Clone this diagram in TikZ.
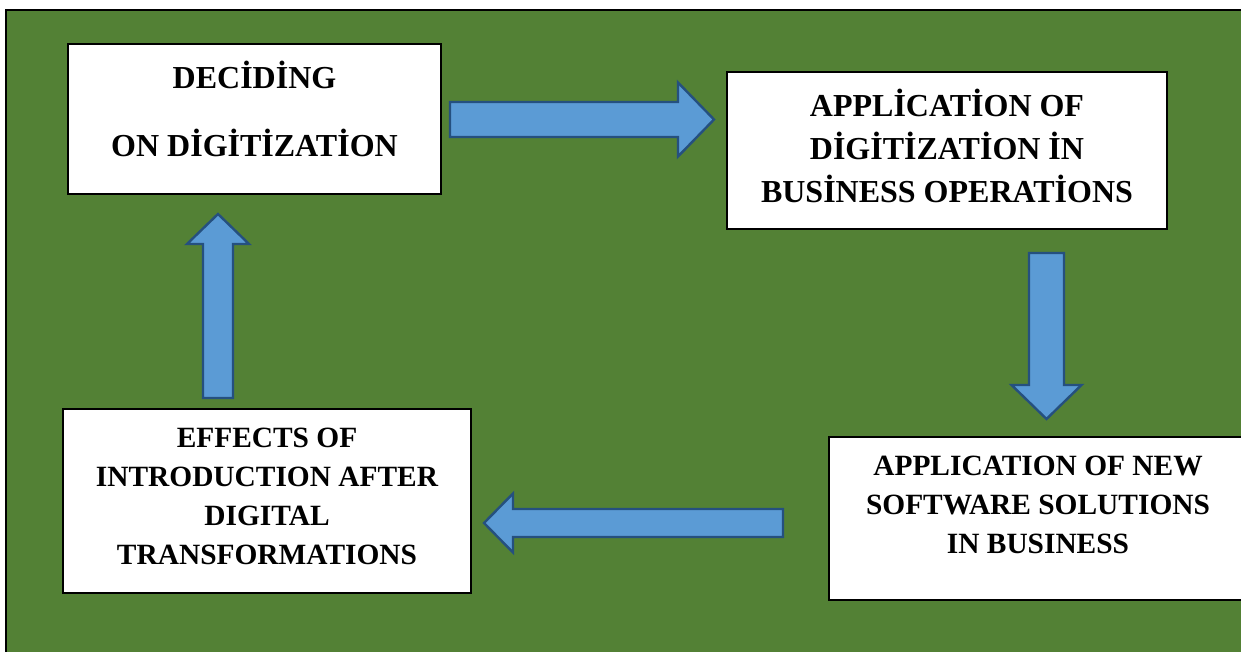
\documentclass[tikz,border=0pt]{standalone}
\usepackage{fontspec}
\setmainfont{Liberation Serif}
\usetikzlibrary{calc}
\definecolor{field}{HTML}{538135}
\definecolor{arrowfill}{HTML}{5B9BD5}
\definecolor{arrowedge}{HTML}{25507F}

\begin{document}
\begin{tikzpicture}[
  x=.5pt, y=-.5pt,
  font=\bfseries\fontsize{14.7}{19.5}\selectfont,
  stage/.style={draw=black, line width=1pt, fill=white, inner sep=0pt},
  stagetext/.style={align=center, inner sep=0pt},
  bigtext/.style={stagetext, font=\bfseries\fontsize{16}{21.5}\selectfont},
  blockarrow/.style={draw=arrowedge, fill=arrowfill, line width=1.2pt,
    line join=miter}
]
% pixel grid of the sketch, y grows downwards
\clip (0,0) rectangle (1241,652);
\fill[white] (0,0) rectangle (1241,652);
\draw[line width=1.1pt, fill=field] (6,10) rectangle (1270,680);

\node[stage, minimum width=186.5pt, minimum height=75pt] (decide) at (254.5,119) {};
\node[bigtext] (decide-text) at (254.5,109) {DECİDİNG\\[12.5pt] ON DİGİTİZATİON};

\node[stage, minimum width=220pt, minimum height=78.5pt] (apply) at (947,150.5) {};
\node[bigtext] (apply-text) at (947,145.5)
  {APPLİCATİON OF\\ DİGİTİZATİON İN\\ BUSİNESS OPERATİONS};

\node[stage, minimum width=209pt, minimum height=81.5pt] (software) at (1038,518.5) {};
\node[stagetext] (software-text) at (1038,505)
  {APPLICATION OF NEW\\ SOFTWARE SOLUTIONS\\ IN BUSINESS};

\node[stage, minimum width=204pt, minimum height=92pt] (effects) at (267,501) {};
\node[stagetext] (effects-text) at (267,496)
  {EFFECTS OF\\ INTRODUCTION AFTER\\ DIGITAL\\ TRANSFORMATIONS};

% block arrows: tail, tip, half shaft, half head, head length
\foreach \name/\tailpt/\tippt/\sh/\hw/\hl in {
  toapply/{450,119.5}/{714,119.5}/17.5/37/36,
  tosoftware/{1046.5,253}/{1046.5,419}/17.5/35/34,
  toeffects/{783,523}/{484,523}/14/29.5/29,
  todecide/{218,398}/{218,214}/15/31/30} {
  \coordinate (\name-tail) at (\tailpt);
  \coordinate (\name-tip) at (\tippt);
  \coordinate (\name-base) at ($(\name-tip)!\hl*.5pt!(\name-tail)$);
  \draw[blockarrow] ($(\name-tail)!\sh*.5pt!90:(\name-tip)$)
    -- ($(\name-base)!\sh*.5pt!90:(\name-tip)$)
    -- ($(\name-base)!\hw*.5pt!90:(\name-tip)$)
    -- (\name-tip)
    -- ($(\name-base)!\hw*.5pt!-90:(\name-tip)$)
    -- ($(\name-base)!\sh*.5pt!-90:(\name-tip)$)
    -- ($(\name-tail)!\sh*.5pt!-90:(\name-tip)$) -- cycle;
}
\end{tikzpicture}
\end{document}
